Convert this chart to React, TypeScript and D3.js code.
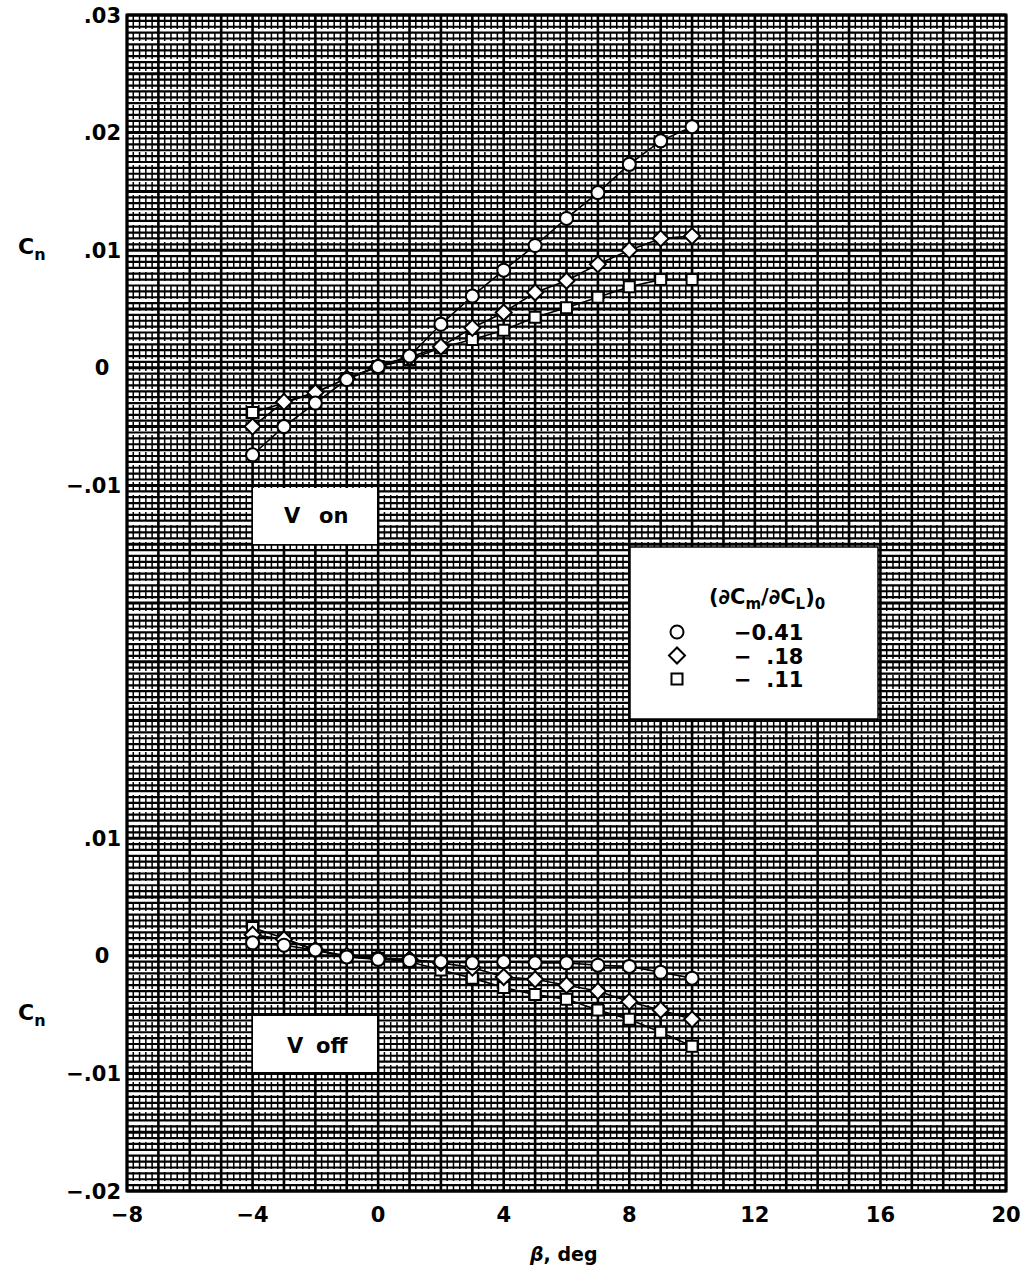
import React from "react";
import * as d3 from "d3";

// Sideslip angle, deg
const beta = [-4, -3, -2, -1, 0, 1, 2, 3, 4, 5, 6, 7, 8, 9, 10];

// Vertical tail on: Cn for each (dCm/dCL)0
const vOnCircle = [-0.0074, -0.005, -0.003, -0.001, 0.0001, 0.001, 0.0037, 0.0061, 0.0083, 0.0104, 0.0127, 0.0149, 0.0173, 0.0193, 0.0205];
const vOnDiamond = [-0.005, -0.0029, -0.0021, -0.0009, 0.0001, 0.0009, 0.0018, 0.0034, 0.0047, 0.0064, 0.0074, 0.0088, 0.01, 0.011, 0.0112];
const vOnSquare = [-0.0038, -0.003, -0.0021, -0.0009, 0.0001, 0.0007, 0.0017, 0.0024, 0.0032, 0.0043, 0.0051, 0.006, 0.0069, 0.0075, 0.0075];

// Vertical tail off
const vOffCircle = [0.0011, 0.0009, 0.0005, -0.0001, -0.0003, -0.0004, -0.0005, -0.0006, -0.0005, -0.0006, -0.0006, -0.0008, -0.0009, -0.0014, -0.0019];
const vOffDiamond = [0.0018, 0.0014, 0.0005, 0.0, -0.0002, -0.0003, -0.0006, -0.001, -0.0018, -0.002, -0.0025, -0.003, -0.0039, -0.0046, -0.0054];
const vOffSquare = [0.0024, 0.0015, 0.0005, -0.0001, -0.0002, -0.0005, -0.0012, -0.0019, -0.0027, -0.0033, -0.0037, -0.0046, -0.0054, -0.0065, -0.0077];

const xTicks = [-8, -4, 0, 4, 8, 12, 16, 20];
const upperTicks = [0.03, 0.02, 0.01, 0, -0.01];
const upperTickLabels = [".03", ".02", ".01", "0", "\u2212.01"];
const lowerTicks = [0.01, 0, -0.01, -0.02];
const lowerTickLabels = [".01", "0", "\u2212.01", "\u2212.02"];
const legendValues = ["\u22120.41", "\u2212  .18", "\u2212  .11"];
const legendShapes = ["circle", "diamond", "square"];

const W = 1023;
const H = 1274;
const FONT = "'DejaVu Sans', 'Liberation Sans', sans-serif";
const WEIGHT = "bold";

const left = 127;
const right = 1006;
const top = 15;
const bottom = 1191;

const x = d3.scaleLinear().domain([-8, 20]).range([left, right]);
const yUp = d3.scaleLinear().domain([-0.07, 0.03]).range([bottom, top]);
const yLow = d3.scaleLinear().domain([-0.02, 0.08]).range([bottom, top]);

function Marker({ shape, cx, cy }: { shape: string; cx: number; cy: number }) {
  const sym =
    shape === "circle"
      ? d3.symbol().type(d3.symbolCircle).size(Math.PI * 6.5 * 6.5)
      : d3.symbol().type(d3.symbolSquare).size(shape === "diamond" ? 128 : 121);
  const rot = shape === "diamond" ? 45 : 0;
  return (
    <path
      d={sym() || ""}
      transform={`translate(${cx},${cy}) rotate(${rot})`}
      fill="#fff"
      stroke="#000"
      strokeWidth={2}
    />
  );
}

function Series({ values, shape, y }: { values: number[]; shape: string; y: d3.ScaleLinear<number, number> }) {
  const pts: [number, number][] = beta.map((b, i) => [x(b), y(values[i])]);
  const line = d3.line();
  return (
    <g>
      <path d={line(pts) || ""} fill="none" stroke="#000" strokeWidth={1.6} />
      {pts.map((p, i) => (
        <Marker key={i} shape={shape} cx={p[0]} cy={p[1]} />
      ))}
    </g>
  );
}

function Grid() {
  const xMinor = d3.range(-8, 20.001, 0.2);
  const yMinor = d3.range(-0.07, 0.03001, 0.0005);
  return (
    <g>
      {yMinor.map((v, i) => (
        <line
          key={"h" + i}
          x1={left}
          x2={right}
          y1={yUp(v)}
          y2={yUp(v)}
          stroke="#000"
          strokeWidth={i % 10 === 0 ? 3 : 2.2}
        />
      ))}
      {xMinor.map((v, i) => (
        <line
          key={"v" + i}
          x1={x(v)}
          x2={x(v)}
          y1={top}
          y2={bottom}
          stroke="#000"
          strokeWidth={i % 5 === 0 ? 2.6 : 1.5}
          strokeDasharray={i % 5 === 0 ? undefined : "14 3 9 4"}
        />
      ))}
    </g>
  );
}

function Cn({ tx, ty }: { tx: number; ty: number }) {
  return (
    <text x={tx} y={ty} fontFamily={FONT} fontWeight={WEIGHT} fontSize={22} fill="#000">
      C
      <tspan fontSize={16} dy={6}>
        n
      </tspan>
    </text>
  );
}

export default function App() {
  return (
    <svg
      width={W}
      height={H}
      viewBox={`0 0 ${W} ${H}`}
      style={{ position: "absolute", left: 0, top: 0, background: "#fff" }}
    >
      <rect x={0} y={0} width={W} height={H} fill="#fff" />
      <Grid />
      <rect x={left} y={top} width={right - left} height={bottom - top} fill="none" stroke="#000" strokeWidth={3} />

      {/* label boxes */}
      <rect x={253} y={488} width={124} height={56} fill="#fff" />
      <text fontFamily={FONT} fontWeight={WEIGHT} fontSize={21} y={523} fill="#000">
        <tspan x={284}>V</tspan>
        <tspan x={319}>on</tspan>
      </text>
      <rect x={253} y={1016} width={124} height={56} fill="#fff" />
      <text fontFamily={FONT} fontWeight={WEIGHT} fontSize={21} y={1053} fill="#000">
        <tspan x={287}>V</tspan>
        <tspan x={316}>off</tspan>
      </text>

      {/* series */}
      <Series values={vOnSquare} shape="square" y={yUp} />
      <Series values={vOnDiamond} shape="diamond" y={yUp} />
      <Series values={vOnCircle} shape="circle" y={yUp} />
      <Series values={vOffSquare} shape="square" y={yLow} />
      <Series values={vOffDiamond} shape="diamond" y={yLow} />
      <Series values={vOffCircle} shape="circle" y={yLow} />

      {/* legend */}
      <rect x={630} y={547} width={248} height={172} fill="#fff" stroke="#000" strokeWidth={1.5} />
      <text x={709} y={604} fontFamily={FONT} fontWeight={WEIGHT} fontSize={21} fill="#000">
        (∂C
        <tspan fontSize={15} dy={5}>m</tspan>
        <tspan dy={-5}>/∂C</tspan>
        <tspan fontSize={15} dy={5}>L</tspan>
        <tspan dy={-5}>)</tspan>
        <tspan fontSize={15} dy={5}>0</tspan>
      </text>
      {legendValues.map((v, i) => (
        <g key={v}>
          <Marker shape={legendShapes[i]} cx={677} cy={632 + i * 23.5} />
          <text
            x={734}
            y={640 + i * 23.5}
            fontFamily={FONT}
            fontWeight={WEIGHT}
            fontSize={21}
            fill="#000"
            xmlSpace="preserve"
          >
            {v}
          </text>
        </g>
      ))}

      {/* y tick labels */}
      {upperTicks.map((t, i) => (
        <text
          key={"u" + i}
          x={upperTickLabels[i] === "0" ? 102 : 121}
          y={yUp(t)}
          dy="0.36em"
          textAnchor={upperTickLabels[i] === "0" ? "middle" : "end"}
          fontFamily={FONT}
          fontWeight={WEIGHT}
          fontSize={21}
          fill="#000"
        >
          {upperTickLabels[i]}
        </text>
      ))}
      {lowerTicks.map((t, i) => (
        <text
          key={"l" + i}
          x={lowerTickLabels[i] === "0" ? 102 : 121}
          y={yLow(t)}
          dy="0.36em"
          textAnchor={lowerTickLabels[i] === "0" ? "middle" : "end"}
          fontFamily={FONT}
          fontWeight={WEIGHT}
          fontSize={21}
          fill="#000"
        >
          {lowerTickLabels[i]}
        </text>
      ))}

      {/* x tick labels */}
      {xTicks.map((t) => (
        <text
          key={"x" + t}
          x={x(t)}
          y={1222}
          textAnchor="middle"
          fontFamily={FONT}
          fontWeight={WEIGHT}
          fontSize={21}
          fill="#000"
        >
          {t < 0 ? "\u2212" + Math.abs(t) : String(t)}
        </text>
      ))}

      <Cn tx={18} ty={254} />
      <Cn tx={18} ty={1020} />

      <text x={530} y={1261} fontFamily={FONT} fontWeight={WEIGHT} fontSize={19} fill="#000">
        <tspan fontStyle="italic">β</tspan>
        <tspan>, deg</tspan>
      </text>
    </svg>
  );
}
